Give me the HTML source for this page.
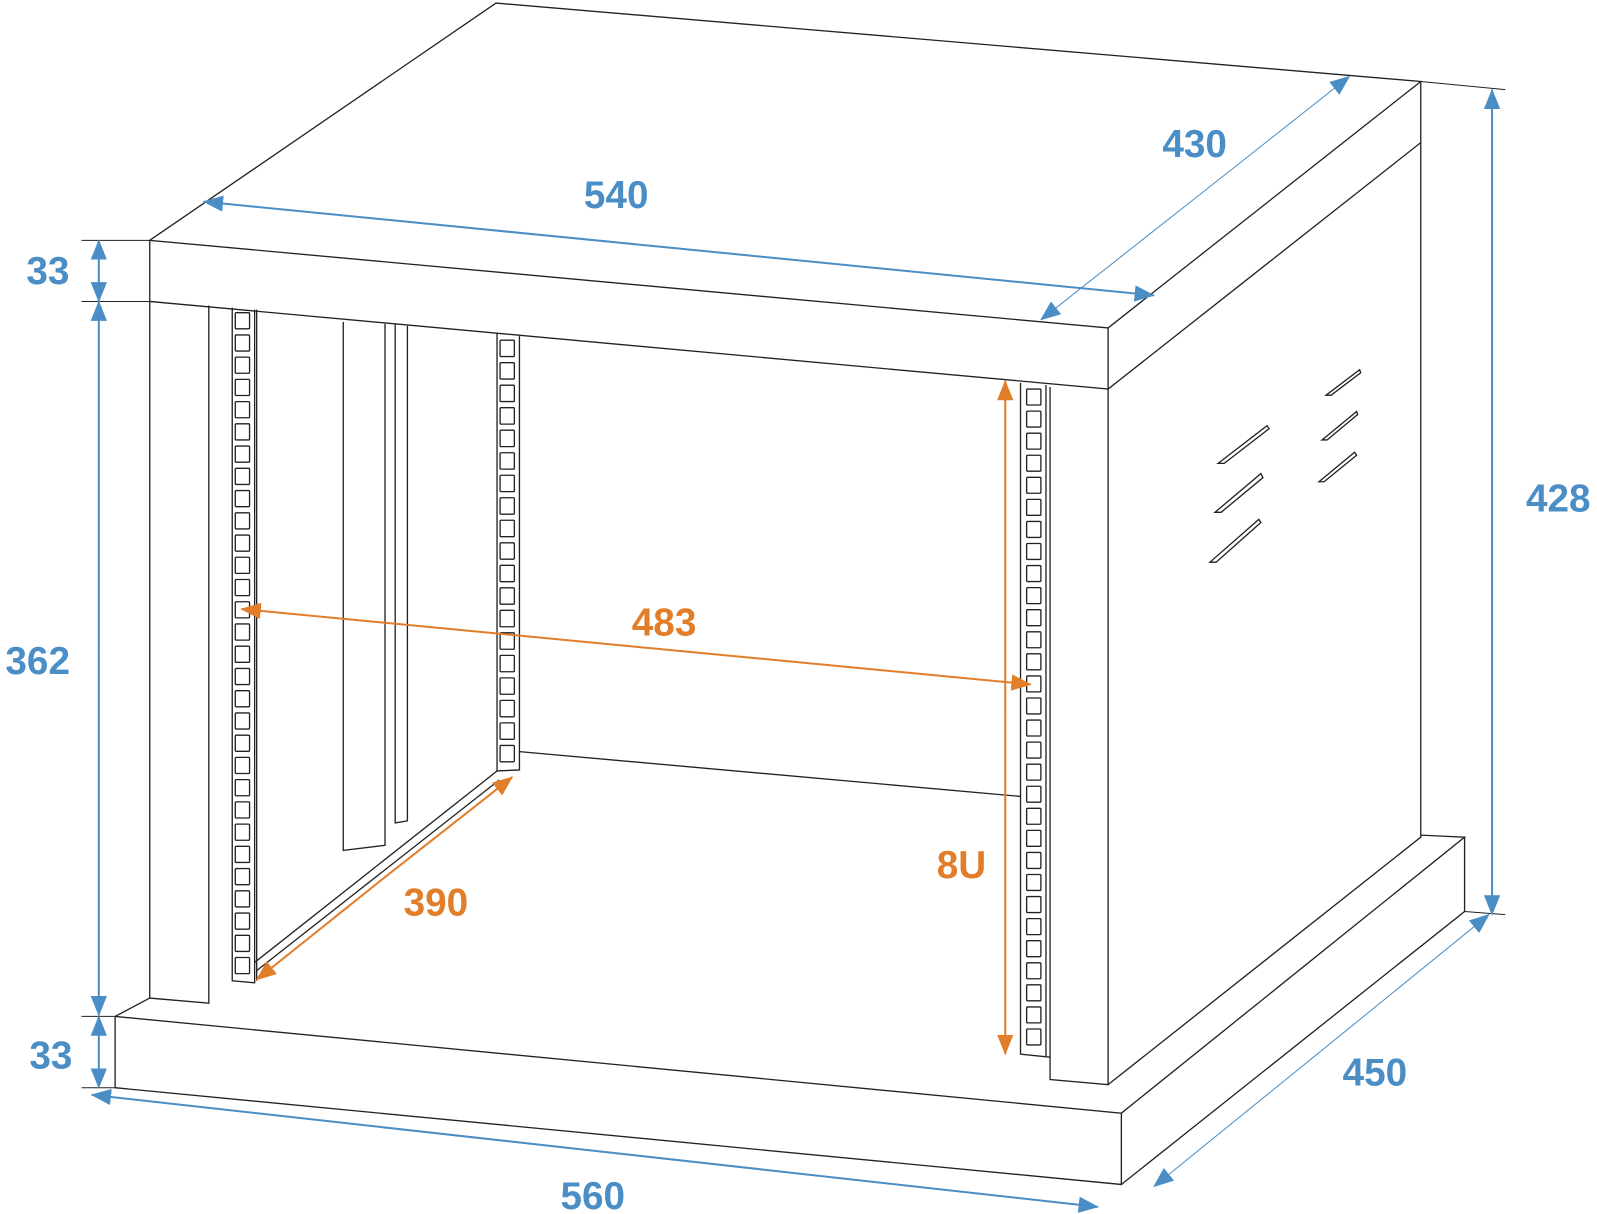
<!DOCTYPE html>
<html><head><meta charset="utf-8"><style>
html,body{margin:0;padding:0;background:#fff}
svg{display:block}
text{font-family:"Liberation Sans",Arial,sans-serif;font-weight:bold;font-size:38px}
</style></head><body>
<svg width="1597" height="1214" viewBox="0 0 1568 1192" xmlns="http://www.w3.org/2000/svg">
<defs>
<marker id="ab" markerWidth="10" markerHeight="10" refX="9" refY="5" orient="auto" markerUnits="userSpaceOnUse" viewBox="0 0 10 10"><path d="M0,0L10,5L0,10z" fill="#4b8ec6"/></marker>
<marker id="ab2" markerWidth="20" markerHeight="20" refX="19" refY="10" orient="auto" markerUnits="userSpaceOnUse" viewBox="0 0 20 20"><path d="M0,2L20,10L0,18z" fill="#4b8ec6"/></marker>
<marker id="ao" markerWidth="20" markerHeight="20" refX="19" refY="10" orient="auto" markerUnits="userSpaceOnUse" viewBox="0 0 20 20"><path d="M0,2L20,10L0,18z" fill="#e27d2a"/></marker>
</defs>
<g fill="none" stroke="#222" stroke-width="1.3">
<!-- top slab -->
<path d="M147,236 L487,3 L1395,80 L1088,322 Z"/>
<path d="M147,236 L147,296 L1088,382 L1088,322"/>
<path d="M1088,382 L1395,140 L1395,80"/>
<!-- right side panel -->
<path d="M1395,140 L1395,822 L1088,1065"/>
<path d="M1088,382 L1088,1065 L1031,1060 L1031,380"/>
<!-- base -->
<path d="M113,998 L113,1068 L1101,1163 L1101,1093 L113,998"/>
<path d="M113,998 L147,980"/>
<path d="M1101,1093 L1438,822 L1395,820"/>
<path d="M1438,822 L1438,895 L1101,1163"/>
<!-- left post -->
<path d="M147,296 L147,980 L205,985 L205,300"/>
<!-- left rail -->
<path d="M228,302 L228,963 L250,965 L250,304"/>
<path d="M252,304 L252,963"/>
<!-- inner bars -->
<path d="M337,316 L337,835 L378,830 L378,318"/>
<path d="M388,318 L388,808 L400,806 L400,320"/>
<!-- middle rail -->
<path d="M488,327 L488,757 L510,756 L510,330"/>
<!-- right rail -->
<path d="M1002,376 L1002,1035 L1031,1038"/>
<path d="M1027,378 L1027,1037"/>
<!-- floor lines -->
<path d="M510,738 L1002,782"/>
<path d="M250,945 L488,757"/>
<path d="M252,953 L490,766"/>
<!-- vents -->
<path d="M1196,455 L1244,418 L1246,421 L1202,455 Z"/>
<path d="M1193,503 L1238,465 L1240,469 L1199,503 Z"/>
<path d="M1188,552 L1236,510 L1238,513 L1194,552 Z"/>
<path d="M1302,388 L1335,363 L1336,366 L1307,388 Z"/>
<path d="M1298,432 L1332,404 L1333,407 L1303,432 Z"/>
<path d="M1295,473 L1330,444 L1332,447 L1300,473 Z"/>
<g id="holes"></g>
</g>
<!-- extension lines -->
<g stroke="#222" stroke-width="1">
<path d="M80,236 H147 M80,296 H147 M80,998 H113 M80,1068 H113"/>
<path d="M1395,80 L1478,88 M1438,895 L1478,898"/>
</g>
<!-- blue dims -->
<g stroke="#4b8ec6" stroke-width="2" fill="none">
<line x1="97" y1="250" x2="97" y2="236" marker-end="url(#ab2)"/>
<line x1="97" y1="280" x2="97" y2="296" marker-end="url(#ab2)"/>
<line x1="97" y1="280" x2="97" y2="250"/>
<line x1="97" y1="640" x2="97" y2="296" marker-end="url(#ab2)"/>
<line x1="97" y1="640" x2="97" y2="997" marker-end="url(#ab2)"/>
<line x1="97" y1="1030" x2="97" y2="998" marker-end="url(#ab2)"/>
<line x1="97" y1="1030" x2="97" y2="1068" marker-end="url(#ab2)"/>
<line x1="666" y1="244" x2="200" y2="198" marker-end="url(#ab2)"/>
<line x1="666" y1="244" x2="1133" y2="290" marker-end="url(#ab2)"/>
<line x1="584" y1="1130" x2="90" y2="1075" marker-end="url(#ab2)"/>
<line x1="584" y1="1130" x2="1078" y2="1185" marker-end="url(#ab2)"/>
<line x1="1465" y1="490" x2="1465" y2="88" marker-end="url(#ab2)"/>
<line x1="1465" y1="490" x2="1465" y2="898" marker-end="url(#ab2)"/>
</g>
<g stroke="#4b8ec6" stroke-width="1" fill="none">
<line x1="1173" y1="195" x2="1022" y2="314" marker-end="url(#ab2)"/>
<line x1="1173" y1="195" x2="1325" y2="75" marker-end="url(#ab2)"/>
<line x1="1297" y1="1032" x2="1133" y2="1165" marker-end="url(#ab2)"/>
<line x1="1297" y1="1032" x2="1462" y2="898" marker-end="url(#ab2)"/>
</g>
<!-- orange dims -->
<g stroke="#e27d2a" stroke-width="2" fill="none">
<line x1="624" y1="635" x2="237" y2="598" marker-end="url(#ao)"/>
<line x1="624" y1="635" x2="1012" y2="672" marker-end="url(#ao)"/>
<line x1="377" y1="862" x2="252" y2="962" marker-end="url(#ao)"/>
<line x1="377" y1="862" x2="503" y2="763" marker-end="url(#ao)"/>
<line x1="987" y1="700" x2="987" y2="374" marker-end="url(#ao)"/>
<line x1="987" y1="700" x2="987" y2="1035" marker-end="url(#ao)"/>
</g>
<g fill="#4b8ec6" text-anchor="middle">
<text x="605" y="204">540</text>
<text x="1173" y="154">430</text>
<text x="47" y="279">33</text>
<text x="37" y="662">362</text>
<text x="50" y="1049">33</text>
<text x="582" y="1187">560</text>
<text x="1350" y="1066">450</text>
<text x="1530" y="502">428</text>
</g>
<g fill="#e27d2a" text-anchor="middle">
<text x="652" y="624">483</text>
<text x="428" y="899">390</text>
<text x="944" y="862">8U</text>
</g>
</svg>
<script>
var g=document.getElementById('holes'),s='';
function rail(x,y0,y1,w){var n=Math.round((y1-y0)/21.7);var p=(y1-y0)/n;for(var i=0;i<n;i++){s+='<rect x="'+x+'" y="'+(y0+i*p+2)+'" width="'+w+'" height="'+(p-6)+'" rx="1"/>';}}
rail(231,305,960,14);
rail(491,332,752,14);
rail(1008,380,1030,14);
g.innerHTML=s;
</script>
</body></html>
